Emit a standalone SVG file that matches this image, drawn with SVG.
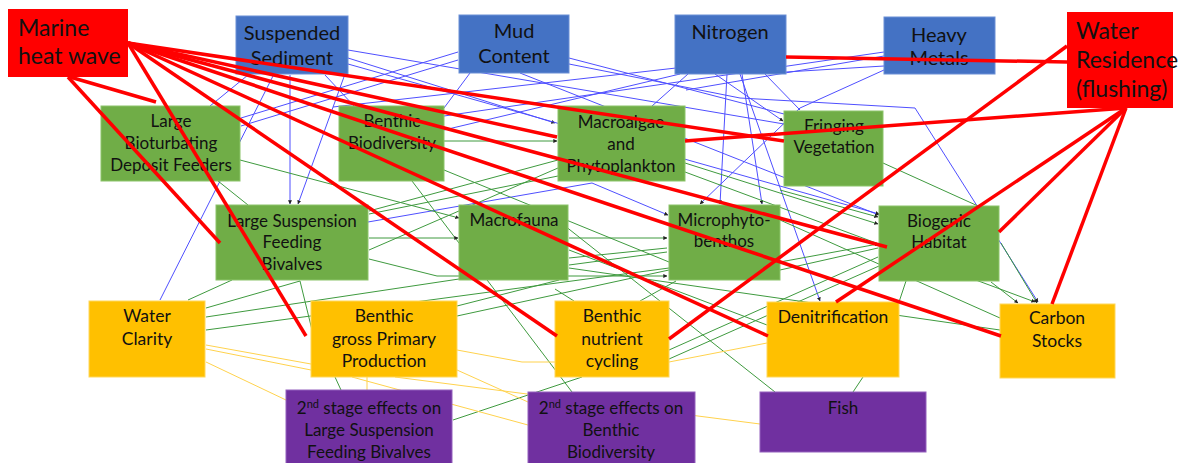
<svg xmlns="http://www.w3.org/2000/svg" width="1179" height="463" viewBox="0 0 1179 463">
  <defs>
    <marker id="tip" viewBox="0 0 6 6" refX="5.5" refY="3" markerWidth="4" markerHeight="4" orient="auto">
      <path d="M0,0 L6,3 L0,6 z" fill="#222"/>
    </marker>
    <style>
      .b { stroke: #4f4fff; stroke-width: 1; fill: none; }
      .g { stroke: #3f9a3f; stroke-width: 1; fill: none; }
      .y { stroke: #ffd24d; stroke-width: 1; fill: none; }
      .r { stroke: #ff0000; stroke-width: 3.5; fill: none; stroke-linecap: butt; }
      .driver { fill: #ff0000; }
      .pressure { fill: #4472c4; stroke: #6a8fd6; stroke-width: 1; }
      .biota { fill: #70ad47; stroke: #8cc46a; stroke-width: 1; }
      .service { fill: #ffc000; stroke: #ffd75a; stroke-width: 1; }
      .second { fill: #7030a0; stroke: #9460bd; stroke-width: 1; }
      text { font-family: Lato, "Open Sans", "Liberation Sans", sans-serif; fill: #111; }
      .t23 { font-size: 23px; }
      .t20 { font-size: 20px; text-anchor: middle; }
      .t17 { font-size: 17px; text-anchor: middle; }
      .t18 { font-size: 17.5px; text-anchor: middle; }
      .sup { font-size: 11px; }
    </style>
  </defs>

  <!-- thin influence links, drawn beneath the boxes -->
  <g id="connectors-under">
    <!-- from Suspended Sediment -->
    <line class="b" x1="290" y1="75" x2="290" y2="204" marker-end="url(#tip)"/>
    <line class="b" x1="345" y1="74" x2="298" y2="204" marker-end="url(#tip)"/>
    <line class="b" x1="248" y1="75" x2="210" y2="106"/>
    <line class="b" x1="273" y1="76" x2="160" y2="300"/>
    <line class="b" x1="325" y1="75" x2="354" y2="106"/>
    <line class="b" x1="348" y1="58" x2="555" y2="123" marker-end="url(#tip)"/>
    <line class="b" x1="348" y1="50" x2="784" y2="124"/>
    <line class="b" x1="348" y1="64" x2="879" y2="214" marker-end="url(#tip)"/>
    <polyline class="b" points="368,222 592,183 668,215" marker-end="url(#tip)"/>
    <!-- from Mud Content -->
    <line class="b" x1="458" y1="52" x2="241" y2="118"/>
    <line class="b" x1="458" y1="60" x2="241" y2="126"/>
    <line class="b" x1="470" y1="73" x2="444" y2="108"/>
    <line class="b" x1="520" y1="73" x2="879" y2="215" marker-end="url(#tip)"/>
    <line class="b" x1="569" y1="58" x2="784" y2="114"/>
    <polyline class="b" points="569,64 740,98 915,108 1038,302" marker-end="url(#tip)"/>
    <!-- from Nitrogen -->
    <line class="b" x1="688" y1="74" x2="652" y2="106"/>
    <line class="b" x1="680" y1="74" x2="444" y2="130"/>
    <line class="b" x1="727" y1="74" x2="720" y2="204" marker-end="url(#tip)"/>
    <line class="b" x1="742" y1="74" x2="762" y2="204" marker-end="url(#tip)"/>
    <line class="b" x1="715" y1="74" x2="783" y2="121" marker-end="url(#tip)"/>
    <line class="b" x1="740" y1="74" x2="820" y2="301" marker-end="url(#tip)"/>
    <line class="b" x1="765" y1="74" x2="800" y2="110"/>
    <line class="b" x1="676" y1="68" x2="333" y2="107"/>
    <!-- from Heavy Metals -->
    <line class="b" x1="884" y1="52" x2="444" y2="116"/>
    <line class="b" x1="884" y1="56" x2="686" y2="90"/>
    <polyline class="b" points="884,70 800,108 700,204" marker-end="url(#tip)"/>
    <line class="b" x1="884" y1="66" x2="786" y2="72"/>

    <!-- from biota -->
    <line class="g" x1="218" y1="181" x2="248" y2="205"/>
    <line class="g" x1="240" y1="160" x2="459" y2="218" marker-end="url(#tip)"/>
    <line class="g" x1="444" y1="141" x2="557" y2="141" marker-end="url(#tip)"/>
    <line class="g" x1="558" y1="160" x2="369" y2="211"/>
    <line class="g" x1="558" y1="168" x2="369" y2="250"/>
    <line class="g" x1="369" y1="214" x2="558" y2="176"/>
    <line class="g" x1="685" y1="163" x2="878" y2="224" marker-end="url(#tip)"/>
    <line class="g" x1="685" y1="172" x2="1035" y2="302" marker-end="url(#tip)"/>
    <line class="g" x1="883" y1="163" x2="978" y2="206"/>
    <line class="g" x1="412" y1="181" x2="572" y2="392"/>
    <line class="g" x1="444" y1="170" x2="669" y2="262"/>
    <line class="g" x1="369" y1="238" x2="458" y2="238" marker-end="url(#tip)"/>
    <polyline class="g" points="369,259 437,276 667,276" marker-end="url(#tip)"/>
    <line class="g" x1="569" y1="238" x2="667" y2="238" marker-end="url(#tip)"/>
    <line class="g" x1="569" y1="258" x2="667" y2="248"/>
    <line class="g" x1="569" y1="265" x2="667" y2="252"/>
    <line class="g" x1="569" y1="250" x2="767" y2="325"/>
    <line class="g" x1="569" y1="268" x2="1000" y2="330"/>
    <line class="g" x1="560" y1="222" x2="775" y2="392"/>
    <line class="g" x1="780" y1="190" x2="878" y2="217" marker-end="url(#tip)"/>
    <line class="g" x1="780" y1="262" x2="878" y2="244" marker-end="url(#tip)"/>
    <line class="g" x1="780" y1="270" x2="878" y2="248"/>
    <line class="g" x1="669" y1="350" x2="878" y2="257"/>
    <line class="g" x1="780" y1="220" x2="1000" y2="318"/>
    <line class="g" x1="1001" y1="243" x2="1037" y2="303" marker-end="url(#tip)"/>
    <line class="g" x1="991" y1="282" x2="1018" y2="303" marker-end="url(#tip)"/>
    <line class="g" x1="906" y1="281" x2="899" y2="302"/>
    <line class="g" x1="232" y1="280" x2="188" y2="300"/>
    <line class="g" x1="300" y1="281" x2="206" y2="308"/>
    <line class="g" x1="300" y1="281" x2="312" y2="330"/>
    <line class="g" x1="206" y1="317" x2="459" y2="279"/>
    <line class="g" x1="206" y1="330" x2="669" y2="268"/>
    <line class="g" x1="457" y1="316" x2="669" y2="270"/>
    <line class="g" x1="457" y1="306" x2="559" y2="280"/>
    <line class="g" x1="555" y1="289" x2="574" y2="301"/>
    <line class="g" x1="676" y1="281" x2="640" y2="301"/>
    <line class="g" x1="453" y1="420" x2="582" y2="377"/>
    <line class="g" x1="335" y1="377" x2="341" y2="390"/>
    <line class="g" x1="863" y1="377" x2="853" y2="392"/>
    <line class="g" x1="669" y1="359" x2="879" y2="266"/>

    <!-- from ecosystem functions -->
    <line class="y" x1="206" y1="345" x2="311" y2="364"/>
    <line class="y" x1="206" y1="349" x2="311" y2="370"/>
    <polyline class="y" points="457,350 522,362 555,362"/>
    <line class="y" x1="206" y1="362" x2="286" y2="400"/>
    <line class="y" x1="457" y1="370" x2="528" y2="402"/>
    <line class="y" x1="352" y1="377" x2="528" y2="425"/>
    <line class="y" x1="367" y1="377" x2="367" y2="390"/>
    <line class="y" x1="395" y1="377" x2="760" y2="424"/>
    <line class="y" x1="669" y1="362" x2="767" y2="343"/>
  </g>

  <!-- drivers and pressures -->
  <g id="marine-heat-wave">
    <rect class="driver" x="8" y="9" width="120" height="68"/>
    <text class="t23" x="18" y="36">Marine</text>
    <text class="t23" x="18" y="64">heat wave</text>
  </g>
  <g id="water-residence">
    <rect class="driver" x="1067" y="12" width="106" height="96"/>
    <text class="t23" x="1076" y="39">Water</text>
    <text class="t23" x="1076" y="68">Residence</text>
    <text class="t23" x="1076" y="97">(flushing)</text>
  </g>
  <g id="suspended-sediment">
    <rect class="pressure" x="236" y="16" width="112" height="58"/>
    <text class="t20" x="292" y="40">Suspended</text>
    <text class="t20" x="292" y="65">Sediment</text>
  </g>
  <g id="mud-content">
    <rect class="pressure" x="459" y="15" width="110" height="58"/>
    <text class="t20" x="514" y="38">Mud</text>
    <text class="t20" x="514" y="63">Content</text>
  </g>
  <g id="nitrogen">
    <rect class="pressure" x="675" y="15" width="111" height="59"/>
    <text class="t20" x="730" y="39">Nitrogen</text>
  </g>
  <g id="heavy-metals">
    <rect class="pressure" x="884" y="17" width="111" height="57"/>
    <text class="t20" x="939" y="42">Heavy</text>
    <text class="t20" x="939" y="65">Metals</text>
  </g>

  <!-- biota -->
  <g id="bioturbating-deposit-feeders">
    <rect class="biota" x="101" y="106" width="139" height="75"/>
    <text class="t17" x="171" y="127">Large</text>
    <text class="t17" x="171" y="149">Bioturbating</text>
    <text class="t17" x="171" y="171">Deposit Feeders</text>
  </g>
  <g id="benthic-biodiversity">
    <rect class="biota" x="339" y="106" width="105" height="75"/>
    <text class="t17" x="392" y="127">Benthic</text>
    <text class="t17" x="392" y="149">Biodiversity</text>
  </g>
  <g id="macroalgae-phytoplankton">
    <rect class="biota" x="558" y="106" width="127" height="75"/>
    <text class="t17" x="621" y="128">Macroalgae</text>
    <text class="t17" x="621" y="150">and</text>
    <text class="t17" x="621" y="172">Phytoplankton</text>
  </g>
  <g id="fringing-vegetation">
    <rect class="biota" x="784" y="111" width="99" height="75"/>
    <text class="t17" x="834" y="132">Fringing</text>
    <text class="t17" x="834" y="153">Vegetation</text>
  </g>
  <g id="suspension-feeding-bivalves">
    <rect class="biota" x="216" y="205" width="152" height="75"/>
    <text class="t17" x="292" y="227">Large Suspension</text>
    <text class="t17" x="292" y="248">Feeding</text>
    <text class="t17" x="292" y="270">Bivalves</text>
  </g>
  <g id="macrofauna">
    <rect class="biota" x="459" y="205" width="109" height="75"/>
    <text class="t17" x="514" y="226">Macrofauna</text>
  </g>
  <g id="microphytobenthos">
    <rect class="biota" x="669" y="205" width="111" height="75"/>
    <text class="t17" x="724" y="226">Microphyto-</text>
    <text class="t17" x="724" y="247">benthos</text>
  </g>
  <g id="biogenic-habitat">
    <rect class="biota" x="879" y="206" width="120" height="75"/>
    <text class="t17" x="939" y="227">Biogenic</text>
    <text class="t17" x="939" y="248">Habitat</text>
  </g>

  <!-- ecosystem functions -->
  <g id="water-clarity">
    <rect class="service" x="89" y="301" width="116" height="76"/>
    <text class="t18" x="147" y="322">Water</text>
    <text class="t18" x="147" y="345">Clarity</text>
  </g>
  <g id="benthic-primary-production">
    <rect class="service" x="311" y="301" width="146" height="76"/>
    <text class="t18" x="384" y="322">Benthic</text>
    <text class="t18" x="384" y="345">gross Primary</text>
    <text class="t18" x="384" y="367">Production</text>
  </g>
  <g id="benthic-nutrient-cycling">
    <rect class="service" x="555" y="301" width="114" height="76"/>
    <text class="t18" x="612" y="322">Benthic</text>
    <text class="t18" x="612" y="345">nutrient</text>
    <text class="t18" x="612" y="367">cycling</text>
  </g>
  <g id="denitrification">
    <rect class="service" x="767" y="302" width="132" height="75"/>
    <text class="t18" x="833" y="323">Denitrification</text>
  </g>
  <g id="carbon-stocks">
    <rect class="service" x="1000" y="304" width="115" height="74"/>
    <text class="t18" x="1057" y="324">Carbon</text>
    <text class="t18" x="1057" y="347">Stocks</text>
  </g>

  <!-- second stage effects -->
  <g id="second-stage-bivalves">
    <rect class="second" x="286" y="390" width="166" height="75"/>
    <text class="t17" x="369" y="414">2<tspan class="sup" dy="-6">nd</tspan><tspan dy="6"> stage effects on</tspan></text>
    <text class="t17" x="369" y="436">Large Suspension</text>
    <text class="t17" x="369" y="458">Feeding Bivalves</text>
  </g>
  <g id="second-stage-biodiversity">
    <rect class="second" x="528" y="392" width="167" height="73"/>
    <text class="t17" x="611" y="414">2<tspan class="sup" dy="-6">nd</tspan><tspan dy="6"> stage effects on</tspan></text>
    <text class="t17" x="611" y="436">Benthic</text>
    <text class="t17" x="611" y="458">Biodiversity</text>
  </g>
  <g id="fish">
    <rect class="second" x="760" y="392" width="166" height="60"/>
    <text class="t17" x="843" y="414">Fish</text>
  </g>

  <!-- climate and hydrodynamic drivers, drawn over the boxes -->
  <g id="connectors-over">
    <line class="r" x1="70" y1="77" x2="156" y2="102"/>
    <line class="r" x1="68" y1="77" x2="220" y2="243"/>
    <line class="r" x1="128" y1="43" x2="306" y2="336"/>
    <line class="r" x1="128" y1="43" x2="557" y2="336"/>
    <line class="r" x1="128" y1="43" x2="768" y2="336"/>
    <line class="r" x1="128" y1="43" x2="1001" y2="336"/>
    <line class="r" x1="128" y1="43" x2="887" y2="247"/>
    <line class="r" x1="128" y1="43" x2="557" y2="137"/>
    <line class="r" x1="128" y1="43" x2="784" y2="141"/>
    <line class="r" x1="1067" y1="62" x2="786" y2="57"/>
    <line class="r" x1="1067" y1="46" x2="669" y2="339"/>
    <line class="r" x1="1126" y1="108" x2="685" y2="141"/>
    <line class="r" x1="1126" y1="108" x2="999" y2="232"/>
    <line class="r" x1="1126" y1="108" x2="836" y2="302"/>
    <line class="r" x1="1126" y1="108" x2="1052" y2="304"/>
  </g>
</svg>
